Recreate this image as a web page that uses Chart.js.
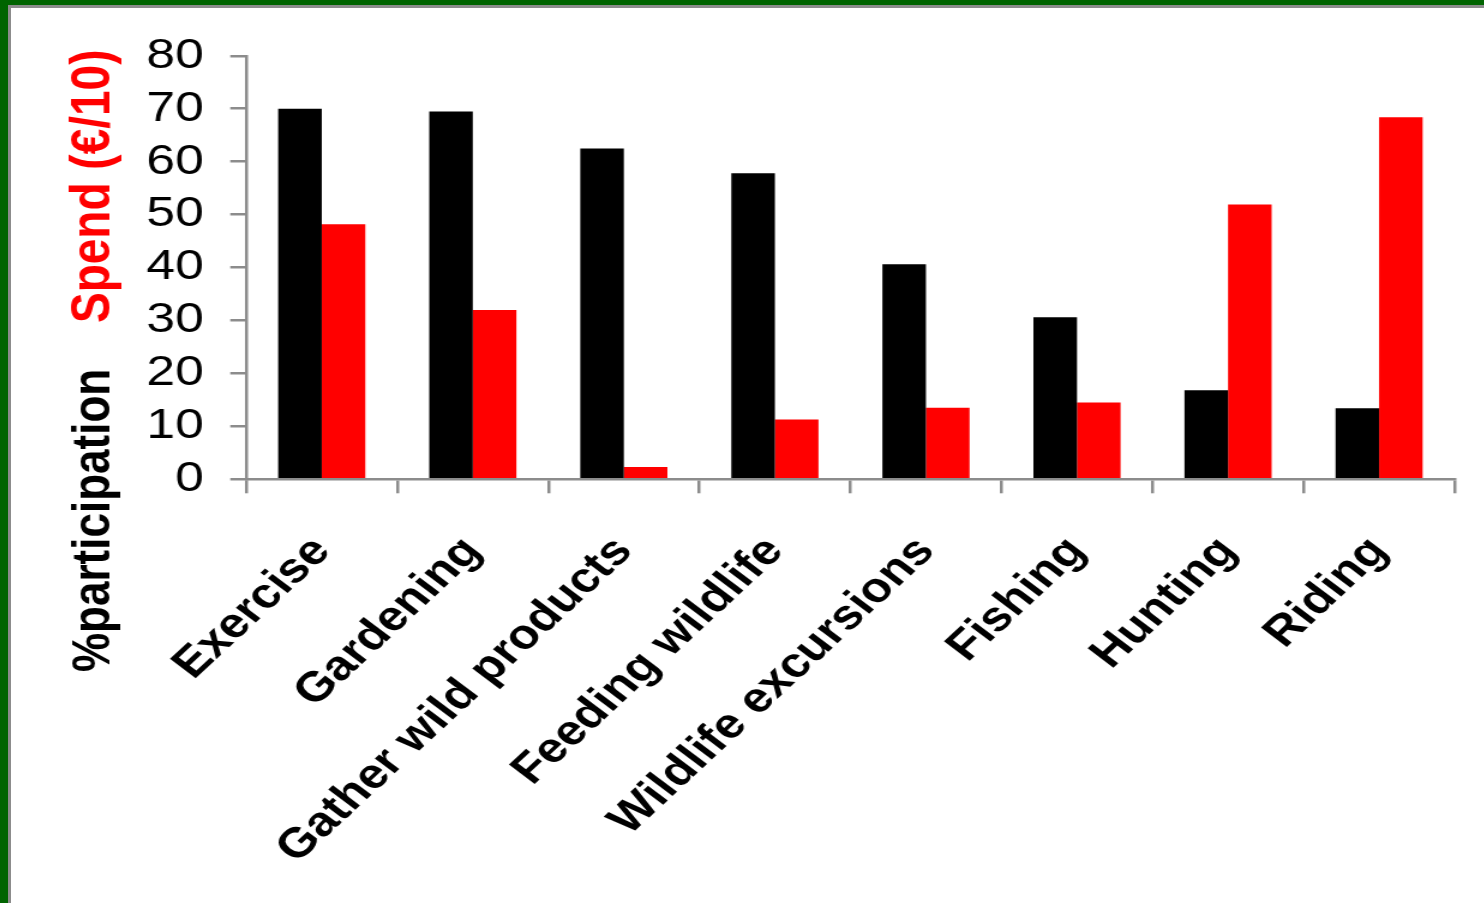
<!DOCTYPE html>
<html>
<head>
<meta charset="utf-8">
<script src="https://cdn.jsdelivr.net/npm/chart.js@4/dist/chart.umd.min.js"></script>
<style>
  html, body { margin: 0; padding: 0; background: #fff; overflow: hidden; }
  #frame { position: absolute; left: 0; top: 0; width: 1484px; height: 903px; box-sizing: border-box;
           border-top: 5px solid #006400; border-left: 8px solid #006400; }
  #inner { position: absolute; left: 0; top: 0; right: 0; bottom: 0; box-sizing: border-box;
           border-top: 3px solid #8c8c8c; border-left: 3px solid #8c8c8c; background: #fff; }
  #wrap { position: absolute; left: 11px; top: 8px; width: 1228px; height: 895px;
          transform: scaleX(1.2); transform-origin: 0 0; }
</style>
</head>
<body>
<div id="frame"><div id="inner"></div></div>
<div id="wrap"><canvas id="c"></canvas></div>
<script>
const categories = ["Exercise", "Gardening", "Gather wild products", "Feeding wildlife",
                    "Wildlife excursions", "Fishing", "Hunting", "Riding"];
const participation = [70.0, 69.5, 62.5, 57.8, 40.6, 30.6, 16.8, 13.4];
const spend = [48.2, 32.0, 2.3, 11.3, 13.5, 14.5, 51.9, 68.4];
const yTicks = [0, 10, 20, 30, 40, 50, 60, 70, 80];
const titlePart1 = "%participation";
const titlePart2 = "Spend (€/10)";

const FONT = "'Liberation Sans', Arial, sans-serif";
const AXIS = "#8c8c8c";

const yTitlePlugin = {
  id: 'yTitle',
  afterDraw(chart) {
    const ctx = chart.ctx;
    ctx.save();
    ctx.textAlign = 'left';
    ctx.textBaseline = 'alphabetic';
    ctx.translate(82, 664);
    ctx.rotate(-Math.PI / 2);
    ctx.font = "bold 44px " + FONT;
    ctx.fillStyle = '#000000';
    ctx.fillText(titlePart1, 0, 0);
    ctx.font = "bold 46px " + FONT;
    ctx.fillStyle = '#ff0000';
    ctx.fillText(titlePart2, 349, 0);
    ctx.restore();
  }
};

new Chart(document.getElementById('c'), {
  type: 'bar',
  data: {
    labels: categories,
    datasets: [
      { label: titlePart1, data: participation, backgroundColor: '#000000',
        barPercentage: 1.0, categoryPercentage: 0.577 },
      { label: titlePart2, data: spend, backgroundColor: '#ff0000',
        barPercentage: 1.0, categoryPercentage: 0.577 }
    ]
  },
  options: {
    responsive: true,
    maintainAspectRatio: false,
    animation: false,
    layout: { padding: { left: 113, top: 47, right: 25, bottom: 0 } },
    plugins: { legend: { display: false }, tooltip: { enabled: false } },
    scales: {
      x: {
        grid: { display: true, drawOnChartArea: false, drawTicks: true, tickLength: 14,
                color: AXIS, lineWidth: 2.5, offset: true },
        border: { display: true, color: AXIS, width: 2.5 },
        ticks: { color: '#000', font: { family: FONT, size: 42, weight: 'bold' },
                 minRotation: 48, maxRotation: 48, padding: 34, autoSkip: false },
        afterFit(scale) { scale.height = 895 - 471.3; }
      },
      y: {
        min: 0, max: 80,
        afterBuildTicks(scale) { scale.ticks = yTicks.map(v => ({ value: v })); },
        grid: { display: true, drawOnChartArea: false, drawTicks: true, tickLength: 13.3,
                color: AXIS, lineWidth: 2.5 },
        border: { display: true, color: AXIS, width: 2.5 },
        ticks: { color: '#000', font: { family: FONT, size: 43 }, padding: 22, autoSkip: false },
        afterFit(scale) { scale.width = 83; }
      }
    }
  },
  plugins: [yTitlePlugin]
});
</script>
</body>
</html>
